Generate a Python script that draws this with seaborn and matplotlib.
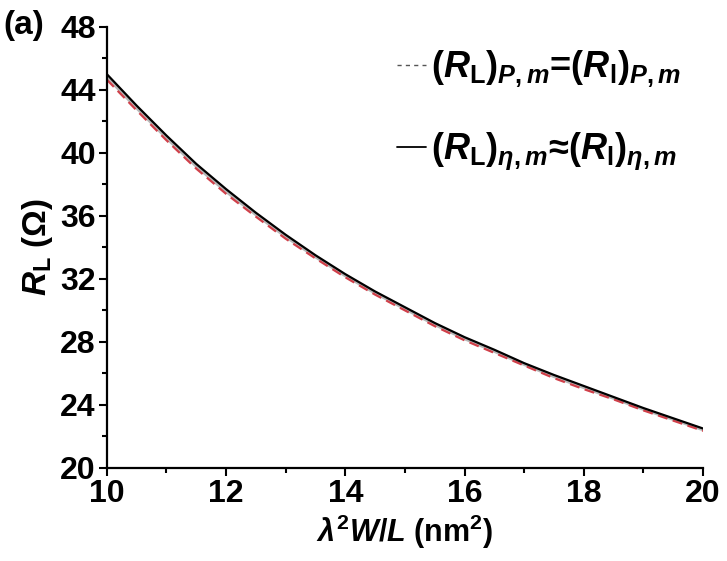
import numpy as np
import pandas as pd
import seaborn as sns
import matplotlib
matplotlib.use("Agg")
import matplotlib.pyplot as plt
from matplotlib.lines import Line2D
from matplotlib.ticker import MultipleLocator

# lambda^2 W / L (nm^2)
x_vals = [10.0, 10.5, 11.0, 11.5, 12.0, 12.5, 13.0, 13.5, 14.0, 14.5, 15.0,
          15.5, 16.0, 16.5, 17.0, 17.5, 18.0, 18.5, 19.0, 19.5, 20.0]
# load resistance at maximum efficiency (solid black)
r_eta = [45.0, 43.0, 41.1, 39.3, 37.7, 36.2, 34.8, 33.5, 32.3, 31.2, 30.2,
         29.2, 28.3, 27.5, 26.65, 25.9, 25.2, 24.5, 23.8, 23.15, 22.5]
# load resistance at maximum power (red dashed)
r_p = [44.65, 42.7, 40.8, 39.0, 37.4, 35.95, 34.55, 33.3, 32.1, 31.0, 30.0,
       29.0, 28.1, 27.3, 26.5, 25.7, 25.0, 24.35, 23.65, 23.0, 22.35]
# internal resistance companion curve (light grey)
r_i = [44.82, 42.85, 40.95, 39.15, 37.55, 36.08, 34.68, 33.4, 32.2, 31.1, 30.1,
       29.1, 28.2, 27.4, 26.57, 25.8, 25.1, 24.42, 23.72, 23.08, 22.42]

x_ticks = [10, 12, 14, 16, 18, 20]
y_ticks = [20, 24, 28, 32, 36, 40, 44, 48]

sns.set_style("ticks")
plt.rcParams["font.family"] = ["Liberation Sans", "DejaVu Sans"]
plt.rcParams["font.weight"] = "bold"
plt.rcParams["text.color"] = "black"
plt.rcParams["axes.labelcolor"] = "black"
plt.rcParams["xtick.color"] = "black"
plt.rcParams["ytick.color"] = "black"
plt.rcParams["mathtext.fontset"] = "custom"
plt.rcParams["mathtext.rm"] = "Liberation Sans:bold"
plt.rcParams["mathtext.bf"] = "Liberation Sans:bold"
plt.rcParams["mathtext.it"] = "Liberation Sans:italic:bold"
plt.rcParams["mathtext.sf"] = "Liberation Sans:bold"

df = pd.DataFrame({
    "x": x_vals * 3,
    "R": r_p + r_i + r_eta,
    "curve": ["P"] * len(x_vals) + ["I"] * len(x_vals) + ["eta"] * len(x_vals),
})

fig = plt.figure(figsize=(7.27, 5.61), dpi=100)
ax = fig.add_axes([0.147, 0.166, 0.820, 0.786])

sns.lineplot(data=df[df.curve == "I"], x="x", y="R", color="#b8b8b8",
             linewidth=2.2, ax=ax, legend=False)
sns.lineplot(data=df[df.curve == "P"], x="x", y="R", color="#d0404a",
             linewidth=1.6, ax=ax, legend=False)
ax.lines[-1].set_dashes((4.5, 2.5))
sns.lineplot(data=df[df.curve == "eta"], x="x", y="R", color="black",
             linewidth=1.6, ax=ax, legend=False)

ax.set_xlim(10, 20)
ax.set_ylim(20, 48)
ax.set_xticks(x_ticks)
ax.set_yticks(y_ticks)
ax.xaxis.set_minor_locator(MultipleLocator(1))
ax.yaxis.set_minor_locator(MultipleLocator(2))
ax.tick_params(axis="both", which="major", direction="out", length=6, width=1.5,
               labelsize=23, pad=2)
ax.tick_params(axis="both", which="minor", direction="out", length=3.5, width=1.5)
for lab in ax.get_xticklabels() + ax.get_yticklabels():
    lab.set_fontweight("bold")

sns.despine(ax=ax)
for side in ("left", "bottom"):
    ax.spines[side].set_linewidth(1.6)
    ax.spines[side].set_color("black")

ax.set_xlabel(r"$\lambda^{2}$$\mathit{W/L}$ (nm$^{2}$)", fontsize=22,
              fontweight="bold", labelpad=3)
ax.set_ylabel(r"$\mathit{R}_{\mathrm{L}}$ ($\Omega$)", fontsize=24,
              fontweight="bold", labelpad=4)

fig.text(0.005, 0.955, "(a)", fontsize=24, fontweight="bold", va="center",
         ha="left")

handles = [
    Line2D([], [], color="#555555", linewidth=1.0, dashes=(3, 3)),
    Line2D([], [], color="black", linewidth=1.3),
]
labels = [
    r"$(\mathit{R}_{\mathrm{L}})_{\mathit{P,m}}$=$(\mathit{R}_{\mathrm{l}})_{\mathit{P,m}}$",
    r"$(\mathit{R}_{\mathrm{L}})_{\eta\mathit{,m}}$≈$(\mathit{R}_{\mathrm{l}})_{\eta\mathit{,m}}$",
]
ax.legend(handles, labels, loc="upper right", bbox_to_anchor=(1.0, 1.0),
          frameon=False, fontsize=26, handlelength=0.8, handletextpad=0.15,
          labelspacing=1.15, borderaxespad=0.2)

fig.savefig("out.png", dpi=100, facecolor="white")
